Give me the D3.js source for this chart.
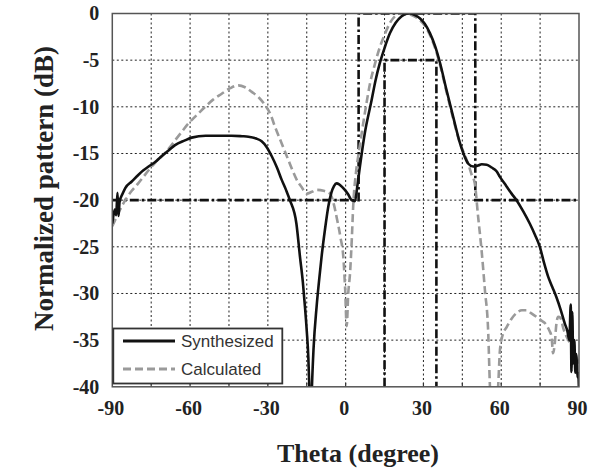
<!DOCTYPE html>
<html>
<head>
<meta charset="utf-8">
<script src="https://cdn.jsdelivr.net/npm/d3@7"></script>
<style>
  body { margin: 0; background: #fff; }
  svg { display: block; }
</style>
</head>
<body>
<div id="chart"></div>
<script>
// Data: theta (degree) and normalized pattern (dB)
const synthTheta = [-90, -89.5, -89, -88.5, -88, -87.6, -87.2, -86, -85, -82.5, -80, -78, -76, -73, -71, -68, -65.8, -62, -59.4, -54, -49, -44, -40, -37.5, -34.5, -32.4, -30.5, -28.5, -26.5, -24.7, -23, -21.5, -19, -17.6, -16.5, -15.7, -15, -14.4, -14, -13.5, -13, -12.4, -11.2, -10.2, -9.3, -8, -6.7, -5.5, -4.5, -3.5, -2.5, -1.3, -0.3, 1, 2.3, 3.6, 4.5, 5.5, 7.4, 10, 11.5, 13.2, 15, 17.1, 19.3, 21.6, 23.5, 24.8, 26.5, 28.6, 30.5, 32.5, 34.5, 36.4, 38.9, 41.5, 44.1, 46, 47.3, 49.2, 51, 52.5, 54.4, 56.3, 58.2, 59.5, 62, 64, 65.9, 68.5, 71, 73, 74.9, 76.5, 78.1, 79.7, 81.3, 83, 84.5, 85.5, 86.3, 86.8, 87.1, 87.4, 87.8, 88.2, 88.6, 89, 89.4, 89.7, 90];
const synthDb = [-22.5, -21.5, -21, -21.6, -19.2, -21.7, -20.2, -19.3, -18.7, -18, -17.3, -16.8, -16.4, -15.8, -15.3, -14.6, -14.1, -13.6, -13.3, -13.1, -13.1, -13.1, -13.15, -13.2, -13.4, -13.7, -14.3, -15.3, -16.5, -17.8, -18.9, -20, -22.5, -26.1, -28.8, -31.4, -34, -36.8, -40, -45, -40, -36, -31.4, -28.5, -26.1, -23.2, -20.7, -19.2, -18.5, -18.2, -18.3, -18.6, -18.9, -19.4, -20, -20.1, -18.5, -16.4, -12.8, -9.3, -7.2, -5.3, -3.7, -2.1, -1, -0.3, -0.02, 0, -0.15, -0.5, -1.1, -2.1, -3.5, -5.3, -8.2, -11.1, -13.9, -15.4, -16.1, -16.4, -16.3, -16.15, -16.2, -16.5, -16.9, -17.5, -18.5, -19.3, -20, -21.2, -22.5, -23.7, -25, -26.7, -28.2, -29.3, -30.4, -31.8, -33.2, -34, -35, -31.2, -38.4, -32, -37.5, -35, -38.5, -36.5, -39, -38.5, -40.5];

const calcTheta = [-90, -87.5, -85, -82.5, -80, -78, -76, -73.5, -70.9, -68, -65.8, -63, -60.7, -57.5, -54.2, -51, -47.8, -44.5, -41.4, -38.8, -36.2, -33.5, -31.1, -29, -27.3, -24.7, -22.1, -20.5, -18.9, -17, -15, -13, -11.2, -8.5, -6, -4.5, -3.5, -2, -0.9, -0.2, 0.4, 1, 1.7, 2.4, 2.9, 4, 5, 6.2, 7.8, 9.4, 11.3, 13.2, 15, 17.1, 19, 20.9, 22.5, 24.5, 26.5, 28.6, 30.5, 32.5, 34.5, 36.4, 38.9, 41.5, 44.1, 46, 47.5, 48.5, 49.8, 51.1, 52.4, 53.7, 55, 55.6, 56.3, 57.5, 58.5, 58.8, 59.5, 60.5, 62.1, 64, 65.9, 68, 69.8, 71.5, 73.6, 75.5, 77.5, 78.6, 79.4, 80, 80.6, 81.3, 82, 82.8, 84, 85.5, 86.5, 88, 89, 90];
const calcDb = [-22.8, -21.3, -20, -19, -18.2, -17.5, -16.8, -16, -15.3, -14.4, -13.6, -12.6, -11.8, -10.9, -10, -9.2, -8.6, -8, -7.7, -7.9, -8.4, -9, -9.8, -10.8, -12.1, -13.9, -15.7, -16.8, -17.8, -18.6, -19.3, -19.1, -18.9, -19, -19.3, -20.5, -21.8, -24, -26.1, -29.5, -33.5, -30, -27.8, -24, -20.7, -17, -15, -12.8, -10, -7.5, -5.4, -3.6, -2.3, -1, -0.3, 0, -0.05, -0.1, -0.3, -0.7, -1.3, -2.3, -3.7, -5.5, -8.4, -11.3, -13.9, -15.2, -16.3, -17.2, -18.2, -21.8, -25.3, -29.6, -34.3, -39.6, -44, -45, -41, -40, -36.1, -34.5, -33.6, -32.7, -32.1, -31.8, -31.8, -32.1, -32.5, -32.9, -33.4, -34, -34.6, -36.4, -35.5, -33.2, -32.5, -32.6, -33.8, -34.8, -35.3, -36, -36.8, -37.5];

// mask lines
const upperMaskTheta = [-90, 5, 5, 50, 50, 90];
const upperMaskDb = [-20, -20, 0, 0, -20, -20];
const lowerMaskTheta = [15, 15, 35, 35];
const lowerMaskDb = [-40, -5, -5, -40];

const xTicks = [-90, -60, -30, 0, 30, 60, 90];
const yTicks = [0, -5, -10, -15, -20, -25, -30, -35, -40];
const xGrid = [-75, -60, -45, -30, -15, 0, 15, 30, 45, 60, 75];
const yGrid = [-5, -10, -15, -20, -25, -30, -35];

const legendNames = ["Synthesized", "Calculated"];

const W = 604, H = 476;
const pLeft = 112.3, pRight = 579, pTop = 13.5, pBottom = 386.8;

const svg = d3.select("#chart").append("svg")
  .attr("width", W)
  .attr("height", H);

const x = d3.scaleLinear().domain([-90, 90]).range([pLeft, pRight]);
const y = d3.scaleLinear().domain([-40, 0]).range([pBottom, pTop]);

svg.append("defs").append("clipPath").attr("id", "clip")
  .append("rect")
  .attr("x", pLeft).attr("y", pTop)
  .attr("width", pRight - pLeft).attr("height", pBottom - pTop);

// grid
svg.append("g").selectAll("line")
  .data(xGrid)
  .enter().append("line")
  .attr("x1", d => x(d)).attr("x2", d => x(d))
  .attr("y1", pTop).attr("y2", pBottom)
  .attr("stroke", "#222").attr("stroke-width", 1)
  .attr("stroke-dasharray", "2,2.5");

svg.append("g").selectAll("line")
  .data(yGrid)
  .enter().append("line")
  .attr("x1", pLeft).attr("x2", pRight)
  .attr("y1", d => y(d)).attr("y2", d => y(d))
  .attr("stroke", "#222").attr("stroke-width", 1)
  .attr("stroke-dasharray", "2,2.5");

// small ticks on the bottom edge
svg.append("g").selectAll("line")
  .data(xGrid)
  .enter().append("line")
  .attr("x1", d => x(d)).attr("x2", d => x(d))
  .attr("y1", pBottom).attr("y2", pBottom - 4)
  .attr("stroke", "#333").attr("stroke-width", 1.2);

const plot = svg.append("g").attr("clip-path", "url(#clip)");

const line = d3.line()
  .x(d => x(d[0]))
  .y(d => y(d[1]))
  .curve(d3.curveMonotoneX);

const straight = d3.line()
  .x(d => x(d[0]))
  .y(d => y(d[1]));

// masks
plot.append("path")
  .datum(d3.zip(upperMaskTheta, upperMaskDb))
  .attr("d", straight)
  .attr("fill", "none")
  .attr("stroke", "#111")
  .attr("stroke-width", 2.6)
  .attr("stroke-dasharray", "9,3,2.5,3");

plot.append("path")
  .datum(d3.zip(lowerMaskTheta, lowerMaskDb))
  .attr("d", straight)
  .attr("fill", "none")
  .attr("stroke", "#111")
  .attr("stroke-width", 2.6)
  .attr("stroke-dasharray", "9,3,2.5,3");

// curves
plot.append("path")
  .datum(d3.zip(calcTheta, calcDb))
  .attr("d", line)
  .attr("fill", "none")
  .attr("stroke", "#9a9a9a")
  .attr("stroke-width", 2.6)
  .attr("stroke-dasharray", "8,4");

plot.append("path")
  .datum(d3.zip(synthTheta, synthDb))
  .attr("d", line)
  .attr("fill", "none")
  .attr("stroke", "#111")
  .attr("stroke-width", 2.6);

// frame
svg.append("rect")
  .attr("x", pLeft).attr("y", pTop)
  .attr("width", pRight - pLeft).attr("height", pBottom - pTop)
  .attr("fill", "none")
  .attr("stroke", "#555")
  .attr("stroke-width", 1.5);

// tick labels (plain hyphen, as in the original)
const yAxis = svg.append("g")
  .attr("transform", "translate(" + (pLeft - 13) + ",0)")
  .call(d3.axisLeft(y).tickValues(yTicks).tickSize(0).tickPadding(0).tickFormat(d => String(d)));
yAxis.select(".domain").remove();
yAxis.selectAll("text")
  .attr("font-family", "'Liberation Serif', 'Times New Roman', serif")
  .attr("font-size", 20)
  .attr("font-weight", "bold")
  .attr("fill", "#222");

const xAxis = svg.append("g")
  .attr("transform", "translate(-2," + (pBottom + 14) + ")")
  .call(d3.axisBottom(x).tickValues(xTicks).tickSize(0).tickPadding(0).tickFormat(d => String(d)));
xAxis.select(".domain").remove();
xAxis.selectAll("text")
  .attr("font-family", "'Liberation Serif', 'Times New Roman', serif")
  .attr("font-size", 20)
  .attr("font-weight", "bold")
  .attr("fill", "#222");

// axis titles
svg.append("text")
  .attr("x", 358).attr("y", 462)
  .attr("text-anchor", "middle")
  .attr("font-family", "'Liberation Serif', 'Times New Roman', serif")
  .attr("font-size", 26)
  .attr("font-weight", "bold")
  .attr("fill", "#222")
  .text("Theta (degree)");

svg.append("text")
  .attr("transform", "translate(53,188.5) rotate(-90)")
  .attr("text-anchor", "middle")
  .attr("font-family", "'Liberation Serif', 'Times New Roman', serif")
  .attr("font-size", 27)
  .attr("font-weight", "bold")
  .attr("fill", "#222")
  .text("Normalized pattern (dB)");

// legend
const legend = svg.append("g");
legend.append("rect")
  .attr("x", pLeft + 1).attr("y", 328.5)
  .attr("width", 169).attr("height", 55)
  .attr("fill", "#fff")
  .attr("stroke", "#333")
  .attr("stroke-width", 1.8);

const legendStyles = [
  { stroke: "#111", dash: null },
  { stroke: "#9a9a9a", dash: "8,4" }
];
const legendY = [341, 369];

legendNames.forEach((name, i) => {
  legend.append("line")
    .attr("x1", 123).attr("x2", 175)
    .attr("y1", legendY[i]).attr("y2", legendY[i])
    .attr("stroke", legendStyles[i].stroke)
    .attr("stroke-width", 3)
    .attr("stroke-dasharray", legendStyles[i].dash);
  legend.append("text")
    .attr("x", 181).attr("y", legendY[i])
    .attr("dy", "0.35em")
    .attr("font-family", "'Liberation Sans', Arial, sans-serif")
    .attr("font-size", 17)
    .attr("fill", "#333")
    .text(name);
});
</script>
</body>
</html>
